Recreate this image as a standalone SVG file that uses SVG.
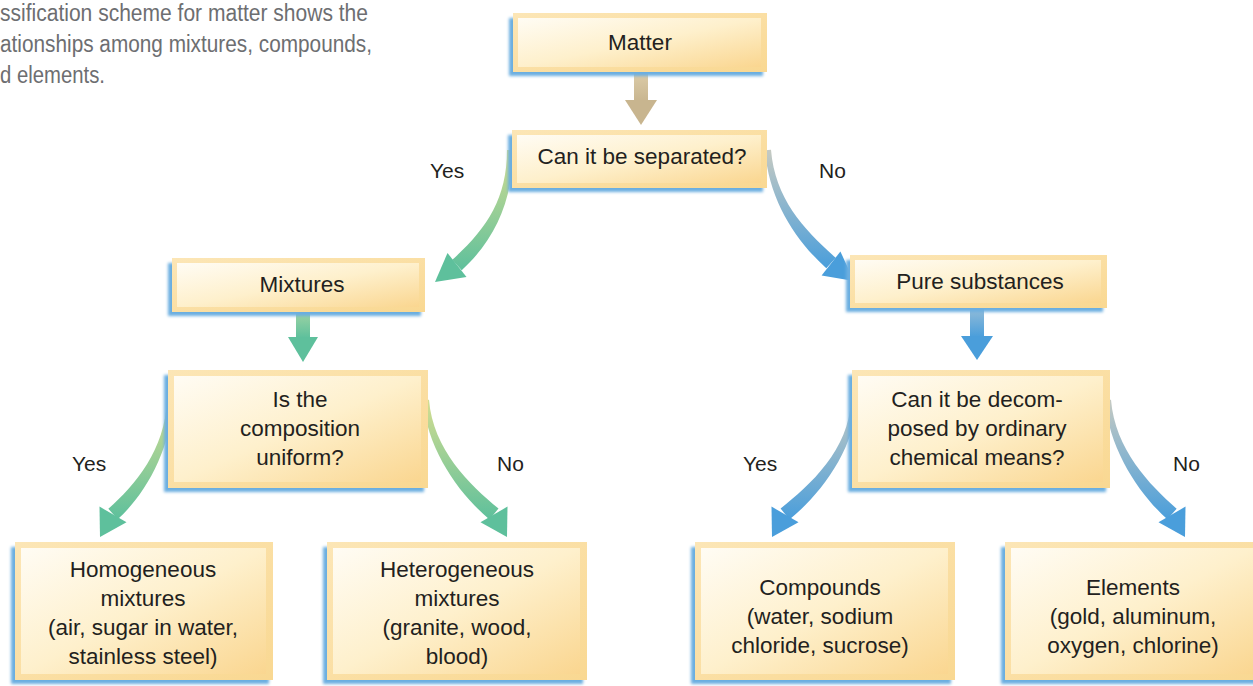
<svg xmlns="http://www.w3.org/2000/svg" width="1253" height="686" viewBox="0 0 1253 686">
  <style>
    .cap { font-family: "Liberation Sans Narrow", "Liberation Sans", Arial, sans-serif; font-size: 23px; fill: #6d6e71; }
    .t { font-family: "Liberation Sans", Arial, Helvetica, sans-serif; font-size: 22.5px; fill: #231f20; text-anchor: middle; }
    .lbl { font-family: "Liberation Sans", Arial, Helvetica, sans-serif; font-size: 21px; fill: #231f20; }
    .shadow { fill: #6aaee0; filter: url(#blur); }
    .outer { fill: url(#gOuter); }
    .inner { fill: url(#gInner); }
    .shaftG { fill: url(#gGreen); }
    .shaftB { fill: url(#gBlue); }
    .headG { fill: #5ec09c; }
    .headB { fill: #4a9edb; }
  </style>
  <defs>
    <filter id="blur" x="-10%" y="-20%" width="120%" height="140%">
      <feGaussianBlur stdDeviation="1.8"/>
    </filter>
    <linearGradient id="gOuter" x1="0" y1="0" x2="1" y2="1">
      <stop offset="0" stop-color="#fce6b6"/>
      <stop offset="1" stop-color="#f9d892"/>
    </linearGradient>
    <linearGradient id="gInner" x1="0" y1="0" x2="1" y2="1">
      <stop offset="0" stop-color="#fffcf4"/>
      <stop offset="0.5" stop-color="#fef0cc"/>
      <stop offset="1" stop-color="#fad690"/>
    </linearGradient>
    <linearGradient id="gGreen" x1="0" y1="0" x2="0" y2="1">
      <stop offset="0" stop-color="#d4dd90"/>
      <stop offset="1" stop-color="#5ec09c"/>
    </linearGradient>
    <linearGradient id="gBlue" x1="0" y1="0" x2="0" y2="1">
      <stop offset="0" stop-color="#c6cac2"/>
      <stop offset="1" stop-color="#4a9edb"/>
    </linearGradient>
    <linearGradient id="gTan" x1="0" y1="0" x2="0" y2="1">
      <stop offset="0" stop-color="#dccca8"/>
      <stop offset="1" stop-color="#c8b58f"/>
    </linearGradient>
    <linearGradient id="gMint" x1="0" y1="0" x2="0" y2="1">
      <stop offset="0" stop-color="#9dd3a4"/>
      <stop offset="1" stop-color="#5ec09c"/>
    </linearGradient>
    <linearGradient id="gSky" x1="0" y1="0" x2="0" y2="1">
      <stop offset="0" stop-color="#93bcd8"/>
      <stop offset="1" stop-color="#4a9edb"/>
    </linearGradient>
  </defs>

  <rect width="1253" height="686" fill="#ffffff"/>

  <g id="caption">
    <text class="cap" x="0" y="21" textLength="368" lengthAdjust="spacingAndGlyphs">ssification scheme for matter shows the</text>
    <text class="cap" x="0" y="52" textLength="372" lengthAdjust="spacingAndGlyphs">ationships among mixtures, compounds,</text>
    <text class="cap" x="0" y="83" textLength="105" lengthAdjust="spacingAndGlyphs">d elements.</text>
  </g>

  <g id="connectors">
    <!-- Matter -> Can it be separated -->
    <rect x="634" y="72" width="14" height="30" fill="url(#gTan)"/>
    <polygon points="625,100 657,100 641,125" fill="#c8b58f"/>
    <!-- Yes: separated -> Mixtures -->
    <path class="shaftG" d="M 513 150 C 513 200 494.7 240.2 461.7 270.2 L 452.3 259.8 C 485.3 229.8 507 200 507 150 Z"/>
    <polygon class="headG" points="466.5,277 447.5,253 435,282"/>
    <!-- No: separated -> Pure substances -->
    <path class="shaftB" d="M 771 149.8 C 775 199.8 804.7 229.8 835.7 257.8 L 826.3 268.2 C 795.3 240.2 769 200.2 765 150.2 Z"/>
    <polygon class="headB" points="821.6,275.5 840.4,251.5 854,281"/>
    <!-- Mixtures -> composition -->
    <rect x="296" y="312" width="14" height="26" fill="url(#gMint)"/>
    <polygon points="288,337 318,337 303,362" fill="#5ec09c"/>
    <!-- Pure -> decompose -->
    <rect x="970" y="308" width="14" height="29" fill="url(#gSky)"/>
    <polygon points="961,336 993,336 977,360" fill="#4a9edb"/>
    <!-- composition Yes -> Homogeneous -->
    <path class="shaftG" d="M 173 400.1 C 171 450.1 144.65 495.24 117.65 519.24 L 108.35 508.76 C 135.35 484.76 165 449.9 167 399.9 Z"/>
    <polygon class="headG" points="126.5,522.2 99.5,506.6 100,537"/>
    <!-- composition No -> Heterogeneous -->
    <path class="shaftG" d="M 429 399.8 C 433 449.8 469.5 484.6 498.5 508.6 L 489.5 519.4 C 460.5 495.4 427 450.2 423 400.2 Z"/>
    <polygon class="headG" points="507.5,506.6 480.5,522.2 507,537"/>
    <!-- decompose Yes -> Compounds -->
    <path class="shaftB" d="M 857 400.1 C 855 450.1 819.4 495.5 789.4 519.5 L 780.6 508.5 C 810.6 484.5 849 449.9 851 399.9 Z"/>
    <polygon class="headB" points="798.5,522.2 771.5,506.6 772,537"/>
    <!-- decompose No -> Elements -->
    <path class="shaftB" d="M 1111 399.8 C 1115 449.8 1149.65 484.76 1176.65 508.76 L 1167.35 519.24 C 1140.35 495.24 1109 450.2 1105 400.2 Z"/>
    <polygon class="headB" points="1185.5,506.6 1158.5,522.2 1185,537"/>
  </g>

  <g id="labels">
    <text class="lbl" x="430" y="178">Yes</text>
    <text class="lbl" x="819" y="178">No</text>
    <text class="lbl" x="72" y="471">Yes</text>
    <text class="lbl" x="497" y="471">No</text>
    <text class="lbl" x="743" y="471">Yes</text>
    <text class="lbl" x="1173" y="471">No</text>
  </g>

  <g id="matter">
    <rect class="shadow" x="509" y="18" width="254" height="58"/>
    <rect class="outer" x="513" y="13" width="254" height="59"/>
    <rect class="inner" x="518" y="18" width="243" height="49"/>
    <text class="t" x="640" y="50">Matter</text>
  </g>

  <g id="separated">
    <rect class="shadow" x="508" y="135" width="255" height="57"/>
    <rect class="outer" x="512" y="130" width="255" height="58"/>
    <rect class="inner" x="517" y="135" width="244" height="48"/>
    <text class="t" x="642" y="164">Can it be separated?</text>
  </g>

  <g id="mixtures">
    <rect class="shadow" x="168" y="263" width="253" height="53"/>
    <rect class="outer" x="172" y="258" width="253" height="54"/>
    <rect class="inner" x="177" y="263" width="242" height="44"/>
    <text class="t" x="302" y="292">Mixtures</text>
  </g>

  <g id="pure">
    <rect class="shadow" x="846" y="260" width="257" height="52"/>
    <rect class="outer" x="850" y="255" width="257" height="53"/>
    <rect class="inner" x="855" y="260" width="246" height="43"/>
    <text class="t" x="980" y="289">Pure substances</text>
  </g>

  <g id="composition">
    <rect class="shadow" x="164" y="375" width="260" height="117"/>
    <rect class="outer" x="168" y="370" width="260" height="118"/>
    <rect class="inner" x="174" y="376" width="247" height="106"/>
    <text class="t" x="300" y="407">Is the</text>
    <text class="t" x="300" y="436">composition</text>
    <text class="t" x="300" y="465">uniform?</text>
  </g>

  <g id="decompose">
    <rect class="shadow" x="848" y="375" width="258" height="117"/>
    <rect class="outer" x="852" y="370" width="258" height="118"/>
    <rect class="inner" x="858" y="376" width="245" height="106"/>
    <text class="t" x="977" y="407">Can it be decom-</text>
    <text class="t" x="977" y="436">posed by ordinary</text>
    <text class="t" x="977" y="465">chemical means?</text>
  </g>

  <g id="homogeneous">
    <rect class="shadow" x="11" y="547" width="258" height="137"/>
    <rect class="outer" x="15" y="542" width="258" height="138"/>
    <rect class="inner" x="21" y="548" width="245" height="126"/>
    <text class="t" x="143" y="577">Homogeneous</text>
    <text class="t" x="143" y="606">mixtures</text>
    <text class="t" x="143" y="635">(air, sugar in water,</text>
    <text class="t" x="143" y="664">stainless steel)</text>
  </g>

  <g id="heterogeneous">
    <rect class="shadow" x="323" y="547" width="260" height="137"/>
    <rect class="outer" x="327" y="542" width="260" height="138"/>
    <rect class="inner" x="333" y="548" width="247" height="126"/>
    <text class="t" x="457" y="577">Heterogeneous</text>
    <text class="t" x="457" y="606">mixtures</text>
    <text class="t" x="457" y="635">(granite, wood,</text>
    <text class="t" x="457" y="664">blood)</text>
  </g>

  <g id="compounds">
    <rect class="shadow" x="691" y="547" width="260" height="137"/>
    <rect class="outer" x="695" y="542" width="260" height="138"/>
    <rect class="inner" x="701" y="548" width="247" height="126"/>
    <text class="t" x="820" y="595">Compounds</text>
    <text class="t" x="820" y="624">(water, sodium</text>
    <text class="t" x="820" y="653">chloride, sucrose)</text>
  </g>

  <g id="elements">
    <rect class="shadow" x="1001" y="547" width="258" height="137"/>
    <rect class="outer" x="1005" y="542" width="258" height="138"/>
    <rect class="inner" x="1011" y="548" width="245" height="126"/>
    <text class="t" x="1133" y="595">Elements</text>
    <text class="t" x="1133" y="624">(gold, aluminum,</text>
    <text class="t" x="1133" y="653">oxygen, chlorine)</text>
  </g>
</svg>
